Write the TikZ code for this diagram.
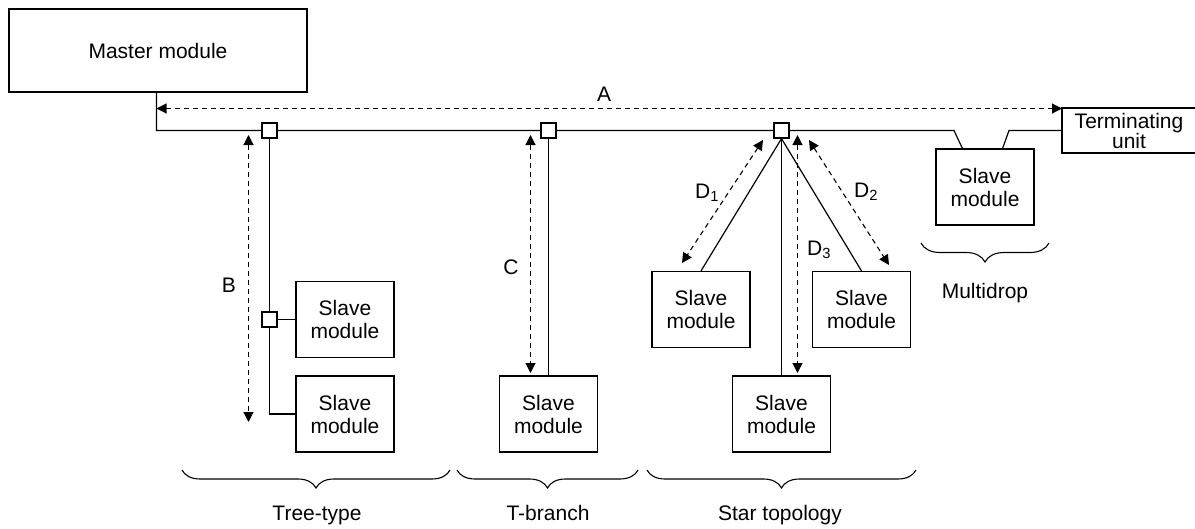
\documentclass[tikz,border=0pt]{standalone}
\usepackage{fontspec}
\setmainfont{Liberation Sans}
\usetikzlibrary{arrows.meta,decorations.pathreplacing}
\begin{document}
\begin{tikzpicture}[x=1pt,y=-1pt,
  every node/.style={font=\fontsize{21}{23}\selectfont},
  line/.style={line width=1.2pt},
  box/.style={draw,line width=1.2pt,inner sep=0pt,align=center},
  slave/.style={box,minimum width=98pt,minimum height=76pt},
  junc/.style={draw,line width=1.2pt,fill=white,minimum size=15pt,inner sep=0pt},
  dim/.style={line width=1.1pt,dash pattern=on 5pt off 4pt,{Triangle[length=10pt,width=10pt]}-{Triangle[length=10pt,width=10pt]}},
  lbl/.style={anchor=base,inner sep=0pt},
  brc/.style={line width=1.1pt,decorate,decoration={brace,mirror,amplitude=18pt}}]
\useasboundingbox (0,0) rectangle (1195,528);
% modules
\node[box,minimum width=298pt,minimum height=83pt] (master) at (158,50.5) {Master module};
\node[box,minimum width=134pt,minimum height=45pt,font=\fontsize{21}{20}\selectfont] (term) at (1129,130.5) {Terminating\\unit};
\node[slave] (md) at (985,187) {Slave\\module};
\node[slave] (ts1) at (345,319.5) {Slave\\module};
\node[slave] (ts2) at (345,414) {Slave\\module};
\node[slave] (tb) at (548.5,414) {Slave\\module};
\node[slave] (sl) at (701,309.5) {Slave\\module};
\node[slave] (sr) at (861.5,309.5) {Slave\\module};
\node[slave] (sb) at (781.5,414) {Slave\\module};
% bus
\coordinate (m0) at (156.5,92);
\coordinate (b1) at (954,130.5);
\coordinate (b2) at (1009,130.5);
\draw[line] (m0) -- (156.5,130.5) -- (b1) -- ([xshift=27pt]md.north west);
\draw[line] ([xshift=-32pt]md.north east) -- (b2) -- (term.west);
% junctions
\node[junc] (j1) at (269.5,130.5) {};
\node[junc] (j2) at (269.5,319.5) {};
\node[junc] (j3) at (548.5,130.5) {};
\node[junc] (j4) at (781.5,130.5) {};
% tree
\draw[line] (j1.south) -- (j2.north);
\draw[line] (j2.east) -- (ts1.west);
\draw[line] (j2.south) |- (ts2.west);
% T-branch
\draw[line] (j3.south) -- (tb.north);
% star
\draw[line] (j4.south) -- (sl.north);
\draw[line] (j4.south) -- (sr.north);
\draw[line] (j4.south) -- (sb.north);
% dimension arrows
\coordinate (aL) at (156.5,108.5);
\coordinate (aR) at (1062,108.5);
\draw[dim] (aL) -- (aR);
\node[lbl] (la) at (604,101) {A};
\coordinate (bT) at (248.5,135);
\coordinate (bB) at (248.5,422);
\draw[dim] (bT) -- (bB);
\node[lbl] (lb) at (229,292) {B};
\coordinate (cT) at (530.5,135);
\coordinate (cB) at (530.5,373);
\draw[dim] (cT) -- (cB);
\node[lbl] (lc) at (511,274) {C};
\coordinate (d1T) at (763,140);
\coordinate (d1B) at (682,263);
\draw[dim] (d1T) -- (d1B);
\node[anchor=base west,inner sep=0pt] (ld1) at (695,198) {D\textsubscript{1}};
\coordinate (d2T) at (809,140);
\coordinate (d2B) at (889,265);
\draw[dim] (d2T) -- (d2B);
\node[anchor=base west,inner sep=0pt] (ld2) at (854,197) {D\textsubscript{2}};
\coordinate (d3T) at (797.5,135);
\coordinate (d3B) at (797.5,373);
\draw[dim] (d3T) -- (d3B);
\node[anchor=base west,inner sep=0pt] (ld3) at (807,255) {D\textsubscript{3}};
% braces
\draw[brc] (182,470) -- (450,470);
\draw[brc] (457,470) -- (638,470);
\draw[brc] (647,470) -- (916,470);
\draw[brc,decoration={brace,mirror,amplitude=19pt}] (921,243) -- (1049,243);
\node[lbl] (l1) at (317,520) {Tree-type};
\node[lbl] (l2) at (548,520) {T-branch};
\node[lbl] (l3) at (780,520) {Star topology};
\node[lbl] (l4) at (985,298) {Multidrop};
\end{tikzpicture}
\end{document}
